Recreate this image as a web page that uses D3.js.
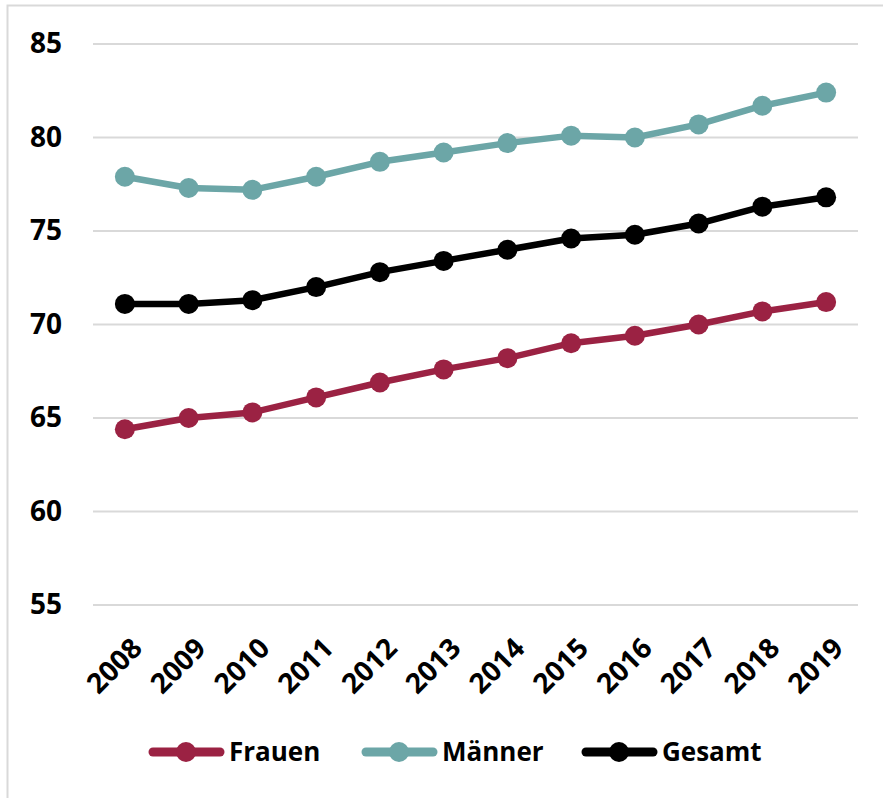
<!DOCTYPE html>
<meta charset="utf-8">
<script src="https://d3js.org/d3.v7.min.js"></script>
<style>
  body { margin: 0; background: #fff; }
  text { font-family: "Open Sans", "Noto Sans", sans-serif; font-weight: 700; fill: #000; }
</style>
<div id="my_dataviz"></div>
<script>

// data
var years = ["2008","2009","2010","2011","2012","2013","2014","2015","2016","2017","2018","2019"];
var frauen = [64.4, 65.0, 65.3, 66.1, 66.9, 67.6, 68.2, 69.0, 69.4, 70.0, 70.7, 71.2];
var maenner = [77.9, 77.3, 77.2, 77.9, 78.7, 79.2, 79.7, 80.1, 80.0, 80.7, 81.7, 82.4];
var gesamt = [71.1, 71.1, 71.3, 72.0, 72.8, 73.4, 74.0, 74.6, 74.8, 75.4, 76.3, 76.8];
var yTicks = [55, 60, 65, 70, 75, 80, 85];
var seriesNames = ["Frauen", "Männer", "Gesamt"];
var seriesColors = ["#9b2243", "#6ca6a7", "#000000"];

var W = 883, H = 798;
var margin = {top: 44, right: 25, bottom: 193, left: 93},
    width = W - margin.left - margin.right,
    height = H - margin.top - margin.bottom;

var root = d3.select("#my_dataviz")
  .append("svg")
    .attr("width", W)
    .attr("height", H);

// chart frame
root.append("rect")
  .attr("x", 7.5).attr("y", 5.5)
  .attr("width", W + 10).attr("height", H + 10)
  .attr("fill", "none")
  .attr("stroke", "#d9d9d9")
  .attr("stroke-width", 2);

var svg = root.append("g")
  .attr("transform", "translate(" + margin.left + "," + margin.top + ")");

var x = d3.scaleBand()
  .domain(years)
  .range([0, width]);

var y = d3.scaleLinear()
  .domain([55, 85])
  .range([height, 0]);

// gridlines
svg.append("g")
  .selectAll("line")
  .data(yTicks)
  .join("line")
    .attr("x1", 0).attr("x2", width)
    .attr("y1", function(d) { return y(d); })
    .attr("y2", function(d) { return y(d); })
    .attr("stroke", "#d9d9d9")
    .attr("stroke-width", 2);

// Y axis
var yAxis = svg.append("g")
  .call(d3.axisLeft(y).tickValues(yTicks).tickSize(0).tickPadding(31));
yAxis.select(".domain").remove();
yAxis.selectAll("text")
  .style("font-size", "28px")
  .style("font-family", "'Open Sans', sans-serif")
  .style("font-weight", 700);

// X axis
var xAxis = svg.append("g")
  .attr("transform", "translate(0," + height + ")")
  .call(d3.axisBottom(x).tickSize(0));
xAxis.select(".domain").remove();
xAxis.selectAll("text")
  .style("font-size", "28px")
  .style("font-family", "'Open Sans', sans-serif")
  .style("font-weight", 700)
  .attr("text-anchor", "end")
  .attr("y", 0)
  .attr("dy", 0)
  .attr("transform", "translate(19,45) rotate(-45)");

// lines
var allSeries = [frauen, maenner, gesamt];
var line = d3.line()
  .x(function(d, i) { return x(years[i]) + x.bandwidth() / 2; })
  .y(function(d) { return y(d); });

allSeries.forEach(function(vals, k) {
  svg.append("path")
    .datum(vals)
    .attr("fill", "none")
    .attr("stroke", seriesColors[k])
    .attr("stroke-width", 6.5)
    .attr("stroke-linejoin", "round")
    .attr("d", line);
  svg.append("g")
    .selectAll("circle")
    .data(vals)
    .join("circle")
      .attr("cx", function(d, i) { return x(years[i]) + x.bandwidth() / 2; })
      .attr("cy", function(d) { return y(d); })
      .attr("r", 10)
      .attr("fill", seriesColors[k]);
});

// legend
var legendX = [150, 363, 583];
var legend = root.append("g")
  .selectAll("g")
  .data(seriesNames)
  .join("g")
    .attr("transform", function(d, i) { return "translate(" + legendX[i] + ",752)"; });
legend.append("line")
  .attr("x1", 3).attr("x2", 70)
  .attr("stroke", function(d, i) { return seriesColors[i]; })
  .attr("stroke-width", 9)
  .attr("stroke-linecap", "round");
legend.append("circle")
  .attr("cx", 36).attr("r", 10)
  .attr("fill", function(d, i) { return seriesColors[i]; });
legend.append("text")
  .attr("x", 79)
  .attr("dy", "0.36em")
  .style("font-size", "26px")
  .text(function(d) { return d; });

</script>
